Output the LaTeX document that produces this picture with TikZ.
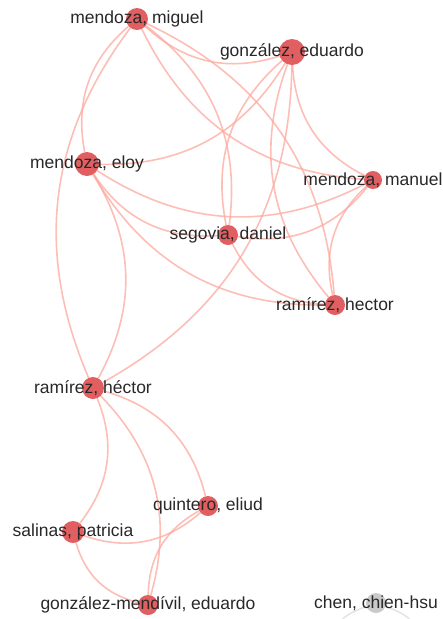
\documentclass[tikz,border=0pt]{standalone}
\usepackage{fontspec}
\setmainfont{Liberation Sans}
\usetikzlibrary{backgrounds}
\definecolor{linkred}{RGB}{252,168,158}
\definecolor{dotred}{RGB}{222,78,80}
\definecolor{dotgray}{RGB}{196,196,196}
\definecolor{linkgray}{RGB}{228,228,228}
\definecolor{namegray}{RGB}{40,40,40}
\begin{document}
\begin{tikzpicture}[x=1pt,y=-1pt,
  author/.style={circle,fill=dotred,fill opacity=0.9,inner sep=0pt,minimum size=#1},
  every label/.style={text=namegray,font=\fontsize{17.5}{20}\selectfont,inner sep=0pt},
  link/.style={draw=linkred,line width=1.6pt,opacity=0.75}]
\useasboundingbox (0,0) rectangle (443,619);

\node[author=22,label=center:{mendoza, miguel}] (miguel) at (137,19) {};
\node[author=26,label=center:{gonz\'alez, eduardo}] (gonzalez) at (292,52) {};
\node[author=24,label=center:{mendoza, eloy}] (eloy) at (87,164) {};
\node[author=18,label=center:{mendoza, manuel}] (manuel) at (373,180) {};
\node[author=20,label=center:{segovia, daniel}] (segovia) at (228,235) {};
\node[author=20,label=center:{ram\'irez, hector}] (hector) at (335,305) {};
\node[author=22,label=center:{ram\'irez, h\'ector}] (hectorb) at (93,388) {};
\node[author=20,label=center:{quintero, eliud}] (quintero) at (208,506) {};
\node[author=22,label=center:{salinas, patricia}] (salinas) at (73,532) {};
\node[author=20,label=center:{gonz\'alez-mend\'ivil, eduardo}] (mendivil) at (148,605) {};
\node[author=20,fill=dotgray,label=center:{chen, chien-hsu}] (chen) at (376,603) {};

\begin{pgfonlayer}{background}
\foreach \a/\b/\ang in {miguel/gonzalez/-30, miguel/eloy/-30, miguel/hectorb/-30,
    miguel/segovia/30, miguel/manuel/-30, miguel/hector/30,
    gonzalez/eloy/30, gonzalez/segovia/-30, gonzalez/hectorb/30,
    gonzalez/hector/-30, gonzalez/manuel/-30,
    eloy/manuel/-30, eloy/segovia/-30, eloy/hector/-30, eloy/hectorb/30,
    manuel/segovia/30, manuel/hector/-30, segovia/hector/-30,
    hectorb/salinas/30, hectorb/mendivil/30, hectorb/quintero/30,
    salinas/quintero/-30, salinas/mendivil/-30, quintero/mendivil/-30}
  \draw[link] (\a) to[bend left=\ang] (\b);
\draw[draw=linkgray,line width=1.6pt] (chen) to[out=-160,in=-20,distance=100] (chen);
\end{pgfonlayer}
\end{tikzpicture}
\end{document}
